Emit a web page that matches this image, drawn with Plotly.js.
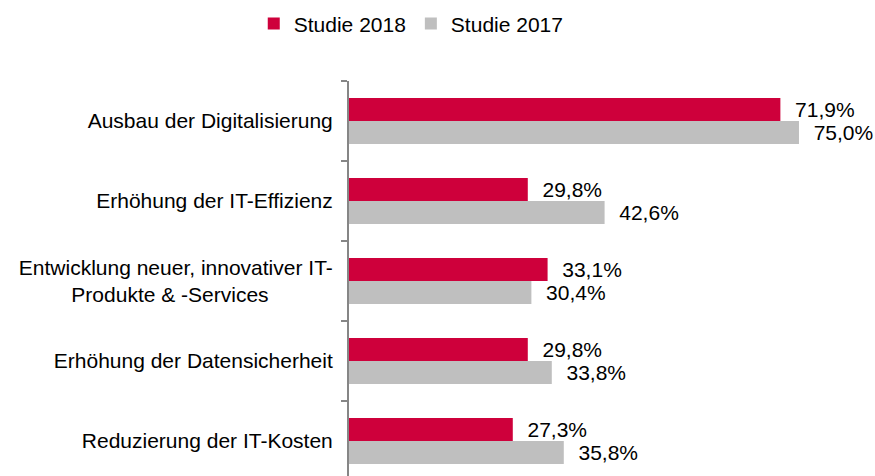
<!DOCTYPE html>
<html>
<head>
<meta charset="utf-8">
<script src="https://cdn.plot.ly/plotly-3.0.1.min.js"></script>
<style>
  html, body { margin: 0; padding: 0; background: #fff; }
  #chart { width: 875px; height: 476px; }
</style>
</head>
<body>
<div id="chart"></div>
<script>
const categories = [
    'Ausbau der Digitalisierung',
    'Erhöhung der IT-Effizienz',
    'Entwicklung neuer, innovativer IT-Produkte & -Services',
    'Erhöhung der Datensicherheit',
    'Reduzierung der IT-Kosten'
];
const categoryLabels = [
    'Ausbau der Digitalisierung',
    'Erhöhung der IT-Effizienz',
    'Entwicklung neuer, innovativer IT-<br>Produkte & -Services' + '\u00A0'.repeat(11),
    'Erhöhung der Datensicherheit',
    'Reduzierung der IT-Kosten'
];
const studie2018 = [71.9, 29.8, 33.1, 29.8, 27.3];
const studie2017 = [75.0, 42.6, 30.4, 33.8, 35.8];

const fmt = v => '\u00A0\u00A0' + v.toFixed(1).replace('.', ',') + '%';
const fontFam = 'Liberation Sans, Arial, sans-serif';

function barTrace(name, values, color) {
    return {
        type: 'bar',
        orientation: 'h',
        name: name,
        y: categories,
        x: values,
        text: values.map(fmt),
        textposition: 'outside',
        constraintext: 'none',
        cliponaxis: false,
        textfont: {family: fontFam, size: 21, color: '#000'},
        marker: {color: color},
        hoverinfo: 'x+name'
    };
}

const data = [
    barTrace('Studie 2018', studie2018, '#CE003B'),
    barTrace('Studie 2017', studie2017, '#BFBFBF')
];

const layout = {
    width: 875,
    height: 476,
    margin: {l: 349, r: 0, t: 81, b: 0},
    paper_bgcolor: '#fff',
    plot_bgcolor: '#fff',
    font: {family: fontFam, size: 21, color: '#000'},
    barmode: 'group',
    bargap: 0.425,
    bargroupgap: 0,
    showlegend: true,
    legend: {
        orientation: 'h',
        xref: 'container', x: 0.47, xanchor: 'center',
        yref: 'container', y: 0.95, yanchor: 'middle',
        itemwidth: 30,
        font: {family: fontFam, size: 21, color: '#000'}
    },
    xaxis: {
        range: [0, 87.67],
        visible: false,
        showgrid: false,
        zeroline: false
    },
    yaxis: {
        type: 'category',
        range: [4.4375, -0.5],
        tickmode: 'array',
        tickvals: categories,
        ticktext: categoryLabels,
        tickson: 'boundaries',
        ticks: 'outside',
        ticklen: 6,
        tickwidth: 1.5,
        tickcolor: '#868686',
        showline: true,
        linecolor: '#868686',
        linewidth: 2,
        showgrid: false,
        zeroline: false,
        ticklabelstandoff: 10,
        tickfont: {family: fontFam, size: 21, color: '#000'}
    }
};

Plotly.newPlot('chart', data, layout, {displayModeBar: false, staticPlot: true});
</script>
</body>
</html>
